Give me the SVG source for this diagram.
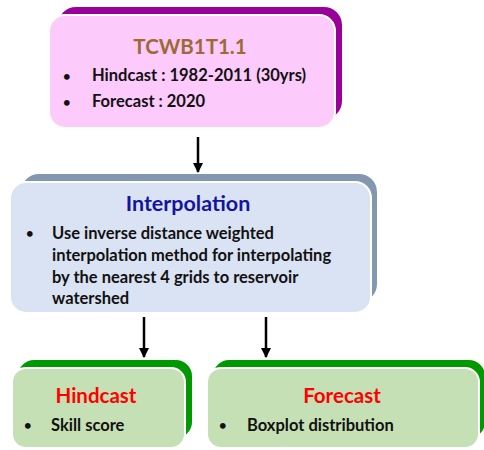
<svg xmlns="http://www.w3.org/2000/svg" width="484" height="450" viewBox="0 0 484 450">
  <style>
    text { font-family: Lato, "Open Sans", "Liberation Sans", sans-serif; font-weight: bold; fill: #111; }
    .title { font-size: 20.5px; text-anchor: middle; }
    .body { font-size: 16.5px; }
    .dot { font-size: 13px; }
    .front { stroke: #ffffff; stroke-width: 2; }
    .arrow { stroke: #000; stroke-width: 2.5; fill: none; marker-end: url(#head); }
  </style>
  <defs>
    <marker id="head" viewBox="0 0 10 10" refX="9" refY="5" markerWidth="4.2" markerHeight="4.2" orient="auto" markerUnits="strokeWidth">
      <path d="M0,0 L10,5 L0,10 z" fill="#000"/>
    </marker>
  </defs>
  <rect width="484" height="450" fill="#ffffff"/>

  <!-- source data -->
  <g id="tcwb">
    <rect x="58" y="7" width="284" height="112" rx="18" fill="#990099"/>
    <rect class="front" x="49" y="15" width="286" height="113" rx="16" fill="#FCCBFB"/>
    <text class="title" x="190" y="54" style="fill:#9C6A33">TCWB1T1.1</text>
    <text class="dot" x="63" y="81">•</text>
    <text class="body" x="92" y="81">Hindcast : 1982-2011 (30yrs)</text>
    <text class="dot" x="63" y="107">•</text>
    <text class="body" x="92" y="107">Forecast : 2020</text>
  </g>

  <!-- interpolation step -->
  <g id="interpolation">
    <rect x="21" y="174" width="356" height="128" rx="18" fill="#8497B0"/>
    <rect class="front" x="10" y="182" width="361" height="131" rx="16" fill="#DAE3F3"/>
    <text class="title" x="188" y="211" style="fill:#1414A0;font-size:21.5px">Interpolation</text>
    <text class="dot" x="26" y="238">•</text>
    <text class="body" x="52" y="239">Use inverse distance weighted</text>
    <text class="body" x="52" y="261">interpolation method for interpolating</text>
    <text class="body" x="52" y="283">by the nearest 4 grids to reservoir</text>
    <text class="body" x="52" y="304">watershed</text>
  </g>

  <!-- hindcast output -->
  <g id="hindcast">
    <rect x="18" y="360" width="174" height="78" rx="16" fill="#009900"/>
    <rect class="front" x="12" y="368" width="173" height="80" rx="14" fill="#C5E0B4"/>
    <text class="title" x="96" y="403" style="fill:#FF0000">Hindcast</text>
    <text class="dot" x="24" y="430">•</text>
    <text class="body" x="51" y="431">Skill score</text>
  </g>

  <!-- forecast output -->
  <g id="forecast">
    <rect x="213" y="360" width="272" height="78" rx="16" fill="#009900"/>
    <rect class="front" x="207" y="368" width="272" height="80" rx="14" fill="#C5E0B4"/>
    <text class="title" x="342" y="403" style="fill:#FF0000">Forecast</text>
    <text class="dot" x="219" y="430">•</text>
    <text class="body" x="247" y="431">Boxplot distribution</text>
  </g>

  <!-- connectors -->
  <g id="connectors">
    <line class="arrow" x1="198" y1="137" x2="198" y2="172"/>
    <line class="arrow" x1="144" y1="317" x2="144" y2="357"/>
    <line class="arrow" x1="266" y1="317" x2="266" y2="357"/>
  </g>
</svg>
